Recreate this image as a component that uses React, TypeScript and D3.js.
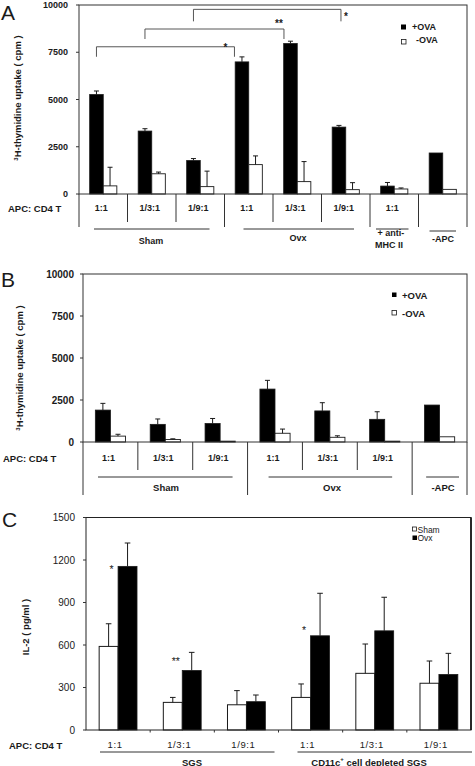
import React from 'react';
import * as d3 from 'd3';

const W = 475;
const H = 766;
const FONT = "'Liberation Sans', Arial, Helvetica, sans-serif";
const INK = '#1a1a1a';

// ---------- Panel A data ----------
const catsA = ['1:1', '1/3:1', '1/9:1', '1:1', '1/3:1', '1/9:1', '1:1', ''];
const plusA = [5260, 3330, 1770, 6990, 7960, 3540, 420, 2170];
const plusErrA = [190, 125, 105, 265, 125, 90, 190, 0];
const minusA = [430, 1070, 390, 1555, 655, 230, 265, 245];
const minusErrA = [985, 90, 820, 460, 1060, 370, 55, 0];
const ticksA = [0, 2500, 5000, 7500, 10000];
const bracketsA = [
  { from: 0, to: 3, value: 7790, label: '*' },
  { from: 1, to: 4, value: 8730, label: '**' },
  { from: 2, to: 5, value: 9770, label: '*' },
];

// ---------- Panel B data ----------
const catsB = ['1:1', '1/3:1', '1/9:1', '1:1', '1/3:1', '1/9:1', ''];
const plusB = [1900, 1050, 1100, 3150, 1850, 1350, 2200];
const plusErrB = [400, 320, 300, 520, 490, 450, 0];
const minusB = [350, 150, 50, 520, 280, 50, 310];
const minusErrB = [110, 40, 0, 250, 90, 0, 0];
const ticksB = [0, 2500, 5000, 7500, 10000];

// ---------- Panel C data ----------
const catsC = ['1:1', '1/3:1', '1/9:1', '1:1', '1/3:1', '1/9:1'];
const shamC = [590, 195, 178, 230, 400, 330];
const shamErrC = [160, 35, 100, 95, 207, 157];
const ovxC = [1155, 420, 200, 665, 700, 392];
const ovxErrC = [165, 128, 47, 300, 237, 149];
const ticksC = [0, 300, 600, 900, 1200, 1500];
const starsC = [
  { group: 0, value: 1160, label: '*' },
  { group: 1, value: 505, label: '**' },
  { group: 3, value: 725, label: '*' },
];

const ErrBar = ({ x, y0, y1, cap }: { x: number; y0: number; y1: number; cap: number }) => (
  <g stroke={INK} strokeWidth={1}>
    <line x1={x} x2={x} y1={y0} y2={y1} />
    <line x1={x - cap} x2={x + cap} y1={y1} y2={y1} />
  </g>
);

function PanelA() {
  const x = d3.scaleBand<number>().domain(d3.range(catsA.length)).range([79, 467]);
  const y = d3.scaleLinear().domain([0, 10000]).range([194, 5]);
  const bw = x.bandwidth();
  const barW = bw * 0.28;
  const cx = (i: number) => (x(i) as number) + bw / 2;
  const longDiv = [0, 3, 6, 7, 8];
  const rightDx = [-7.5, -6.5, 2];
  const starOff = [
    { dx: -9, dy: 4 },
    { dx: -5, dy: -2 },
    { dx: 5, dy: 11 },
  ];
  const legTop = [10, 10, 12];
  return (
    <g fontFamily={FONT} fill={INK}>
      <text x={1} y={20} fontSize={21}>A</text>
      {/* bars */}
      {catsA.map((_, i) => {
        const bx = cx(i) - barW;
        const wx = cx(i);
        return (
          <g key={i}>
            <rect x={bx} y={y(plusA[i])} width={barW} height={y(0) - y(plusA[i])} fill="#000" stroke={INK} strokeWidth={0.8} />
            <rect x={wx} y={y(minusA[i])} width={barW} height={y(0) - y(minusA[i])} fill="#fff" stroke={INK} strokeWidth={0.9} />
            {plusErrA[i] > 0 && <ErrBar x={bx + barW / 2} y0={y(plusA[i])} y1={y(plusA[i] + plusErrA[i])} cap={2.5} />}
            {minusErrA[i] > 0 && <ErrBar x={wx + barW / 2} y0={y(minusA[i])} y1={y(minusA[i] + minusErrA[i])} cap={2.5} />}
          </g>
        );
      })}
      {/* frame */}
      <rect x={79} y={5} width={388} height={189} fill="none" stroke="#333" strokeWidth={1} />
      {/* y ticks */}
      {ticksA.map((t) => (
        <g key={t}>
          <line x1={76} x2={79} y1={y(t)} y2={y(t)} stroke="#333" />
          <text x={68} y={y(t)} fontSize={9} fontWeight="bold" textAnchor="end" dominantBaseline="central">{t}</text>
        </g>
      ))}
      <text transform="translate(21,98) rotate(-90)" textAnchor="middle" fontSize={9.5} fontWeight="bold">
        <tspan fontSize={6} dy={-3.5}>3</tspan>
        <tspan dy={3.5}>H-thymidine uptake ( cpm )</tspan>
      </text>
      {/* brackets */}
      {bracketsA.map((b, k) => {
        const x1 = cx(b.from) - barW / 2;
        const x2 = cx(b.to) - barW / 2 + rightDx[k];
        const yy = y(b.value);
        return (
          <g key={k}>
            <path d={`M${x1},${yy + legTop[k]} L${x1},${yy} L${x2},${yy} L${x2},${yy + legTop[k]}`} fill="none" stroke="#444" strokeWidth={0.9} />
            <text x={x2 + starOff[k].dx} y={yy + starOff[k].dy} fontSize={10} fontWeight="bold" textAnchor="middle">{b.label}</text>
          </g>
        );
      })}
      {/* legend */}
      <rect x={401} y={24.5} width={5} height={5} fill="#000" />
      <text x={412} y={27} fontSize={9} fontWeight="bold" dominantBaseline="central">+OVA</text>
      <rect x={401.5} y={39.5} width={4.5} height={4.5} fill="#fff" stroke={INK} strokeWidth={0.8} />
      <text x={416} y={40} fontSize={9} fontWeight="bold" dominantBaseline="central">-OVA</text>
      {/* table */}
      {d3.range(catsA.length + 1).map((i) => {
        const xx = 79 + i * bw;
        return <line key={i} x1={xx} x2={xx} y1={194} y2={longDiv.includes(i) ? 227 : 222} stroke="#333" />;
      })}
      <text x={8} y={208} fontSize={9.5} fontWeight="bold" dominantBaseline="central">APC: CD4 T</text>
      {catsA.map((c, i) => (
        <text key={i} x={cx(i) - 2} y={208} fontSize={9} fontWeight="bold" textAnchor="middle" dominantBaseline="central">{c}</text>
      ))}
      <g stroke="#333" strokeWidth={1}>
        <line x1={(x(0) as number) + 15} x2={(x(2) as number) + bw - 15} y1={229} y2={229} />
        <line x1={(x(3) as number) + 19} x2={(x(5) as number) + bw - 16} y1={229} y2={229} />
        <line x1={(x(6) as number) + 6} x2={(x(6) as number) + bw - 10} y1={229} y2={229} />
        <line x1={(x(7) as number) + 11} x2={(x(7) as number) + bw - 11} y1={231} y2={231} />
      </g>
      <g fontSize={9} fontWeight="bold" textAnchor="middle" dominantBaseline="central">
        <text x={151} y={241}>Sham</text>
        <text x={298} y={238}>Ovx</text>
        <text x={391} y={233}>+ anti-</text>
        <text x={389} y={245}>MHC II</text>
        <text x={443} y={239}>-APC</text>
      </g>
    </g>
  );
}

function PanelB() {
  const x = d3.scaleBand<number>().domain(d3.range(catsB.length)).range([83, 467]);
  const y = d3.scaleLinear().domain([0, 10000]).range([442, 274]);
  const bw = x.bandwidth();
  const barW = bw * 0.275;
  const cx = (i: number) => (x(i) as number) + bw / 2;
  const longDiv = [0, 3, 6, 7];
  return (
    <g fontFamily={FONT} fill={INK}>
      <text x={1} y={287} fontSize={21}>B</text>
      {catsB.map((_, i) => {
        const bx = cx(i) - barW;
        const wx = cx(i);
        return (
          <g key={i}>
            <rect x={bx} y={y(plusB[i])} width={barW} height={y(0) - y(plusB[i])} fill="#000" stroke={INK} strokeWidth={0.8} />
            <rect x={wx} y={y(minusB[i])} width={barW} height={y(0) - y(minusB[i])} fill="#fff" stroke={INK} strokeWidth={0.9} />
            {plusErrB[i] > 0 && <ErrBar x={bx + barW / 2} y0={y(plusB[i])} y1={y(plusB[i] + plusErrB[i])} cap={2.5} />}
            {minusErrB[i] > 0 && <ErrBar x={wx + barW / 2} y0={y(minusB[i])} y1={y(minusB[i] + minusErrB[i])} cap={2.5} />}
          </g>
        );
      })}
      <rect x={83} y={274} width={384} height={168} fill="none" stroke="#333" strokeWidth={1} />
      {ticksB.map((t) => (
        <g key={t}>
          <line x1={80} x2={83} y1={y(t)} y2={y(t)} stroke="#333" />
          <text x={74} y={y(t)} fontSize={10} fontWeight="bold" textAnchor="end" dominantBaseline="central">{t}</text>
        </g>
      ))}
      <text transform="translate(23,368) rotate(-90)" textAnchor="middle" fontSize={9.5} fontWeight="bold">
        <tspan fontSize={6} dy={-3.5}>3</tspan>
        <tspan dy={3.5}>H-thymidine uptake ( cpm )</tspan>
      </text>
      {/* legend */}
      <rect x={392} y={292.5} width={4.5} height={4.5} fill="#000" />
      <text x={402} y={295} fontSize={9.5} fontWeight="bold" dominantBaseline="central">+OVA</text>
      <rect x={392} y={310.5} width={4.5} height={4.5} fill="#fff" stroke={INK} strokeWidth={0.8} />
      <text x={402} y={313} fontSize={9.5} fontWeight="bold" dominantBaseline="central">-OVA</text>
      {/* table */}
      {d3.range(catsB.length + 1).map((i) => {
        const xx = 83 + i * bw;
        return <line key={i} x1={xx} x2={xx} y1={442} y2={longDiv.includes(i) ? 495 : 470} stroke="#333" />;
      })}
      <text x={3} y={458} fontSize={9.5} fontWeight="bold" dominantBaseline="central">APC: CD4 T</text>
      {catsB.map((c, i) => (
        <text key={i} x={cx(i) - 2} y={458} fontSize={9} fontWeight="bold" textAnchor="middle" dominantBaseline="central">{c}</text>
      ))}
      <g stroke="#333" strokeWidth={1}>
        <line x1={(x(0) as number) + 15} x2={(x(2) as number) + bw - 15} y1={477} y2={477} />
        <line x1={(x(3) as number) + 21} x2={(x(5) as number) + bw - 20} y1={477} y2={477} />
        <line x1={(x(6) as number) + 14} x2={(x(6) as number) + bw - 8} y1={477} y2={477} />
      </g>
      <g fontSize={9.5} fontWeight="bold" textAnchor="middle" dominantBaseline="central">
        <text x={166} y={487}>Sham</text>
        <text x={332} y={487}>Ovx</text>
        <text x={443} y={487}>-APC</text>
      </g>
    </g>
  );
}

function PanelC() {
  const x = d3.scaleBand<number>().domain(d3.range(catsC.length)).range([86, 471]);
  const y = d3.scaleLinear().domain([0, 1500]).range([730, 517.5]);
  const bw = x.bandwidth();
  const barW = bw * 0.295;
  const cx = (i: number) => (x(i) as number) + bw / 2;
  return (
    <g fontFamily={FONT} fill={INK}>
      <text x={2} y={527} fontSize={21}>C</text>
      {catsC.map((_, i) => {
        const sx = cx(i) - barW;
        const ox = cx(i);
        return (
          <g key={i}>
            <rect x={sx} y={y(shamC[i])} width={barW} height={y(0) - y(shamC[i])} fill="#fff" stroke={INK} strokeWidth={1} />
            <rect x={ox} y={y(ovxC[i])} width={barW} height={y(0) - y(ovxC[i])} fill="#000" stroke={INK} strokeWidth={0.8} />
            <ErrBar x={sx + barW / 2} y0={y(shamC[i])} y1={y(shamC[i] + shamErrC[i])} cap={2.8} />
            <ErrBar x={ox + barW / 2} y0={y(ovxC[i])} y1={y(ovxC[i] + ovxErrC[i])} cap={2.8} />
          </g>
        );
      })}
      <rect x={86} y={517.5} width={385} height={212.5} fill="none" stroke="#222" strokeWidth={1} />
      <line x1={471} x2={471} y1={517.5} y2={730} stroke="#111" strokeWidth={1.6} />
      {ticksC.map((t) => (
        <g key={t}>
          <line x1={83} x2={86} y1={y(t)} y2={y(t)} stroke="#333" />
          <text x={75} y={y(t)} fontSize={10} textAnchor="end" dominantBaseline="central">{t}</text>
        </g>
      ))}
      {d3.range(1, catsC.length).map((i) => (
        <line key={i} x1={86 + i * bw} x2={86 + i * bw} y1={730} y2={732.5} stroke="#333" />
      ))}
      <text transform="translate(25,627) rotate(-90)" textAnchor="middle" fontSize={9.5} fontWeight="bold" dominantBaseline="central">IL-2 ( pg/ml )</text>
      {starsC.map((s, k) => (
        <text key={k} x={cx(s.group) - barW / 2 + 3} y={y(s.value) + 7} fontSize={10.5} textAnchor="middle">{s.label}</text>
      ))}
      {/* legend */}
      <rect x={412.5} y={527} width={4} height={4} fill="#fff" stroke={INK} strokeWidth={0.8} />
      <text x={417.5} y={529.5} fontSize={8.5} dominantBaseline="central">Sham</text>
      <rect x={412.5} y={535.5} width={4.5} height={4.5} fill="#000" />
      <text x={417.5} y={538} fontSize={8.5} dominantBaseline="central">Ovx</text>
      {/* table */}
      <text x={9} y={745} fontSize={9.5} fontWeight="bold" dominantBaseline="central">APC: CD4 T</text>
      {catsC.map((c, i) => (
        <text key={i} x={cx(i) - 3} y={744} fontSize={9.5} textAnchor="middle" dominantBaseline="central" letterSpacing={0.6}>{c}</text>
      ))}
      <g stroke="#333" strokeWidth={1}>
        <line x1={(x(0) as number) + 14} x2={(x(2) as number) + bw - 4} y1={752} y2={752} />
        <line x1={(x(3) as number) + 19} x2={(x(5) as number) + bw + 1} y1={752} y2={752} />
      </g>
      <g fontSize={9.5} fontWeight="bold" textAnchor="middle" dominantBaseline="central">
        <text x={192} y={762}>SGS</text>
        <text x={369} y={762}>
          CD11c<tspan fontSize={6} dy={-3}>+</tspan><tspan dy={3}> cell depleted SGS</tspan>
        </text>
      </g>
    </g>
  );
}

export default function App() {
  return (
    <svg width={W} height={H} viewBox={`0 0 ${W} ${H}`} style={{ display: 'block', position: 'absolute', left: 0, top: 0, background: '#fff' }}>
      <rect width={W} height={H} fill="#fff" />
      <PanelA />
      <PanelB />
      <PanelC />
    </svg>
  );
}
